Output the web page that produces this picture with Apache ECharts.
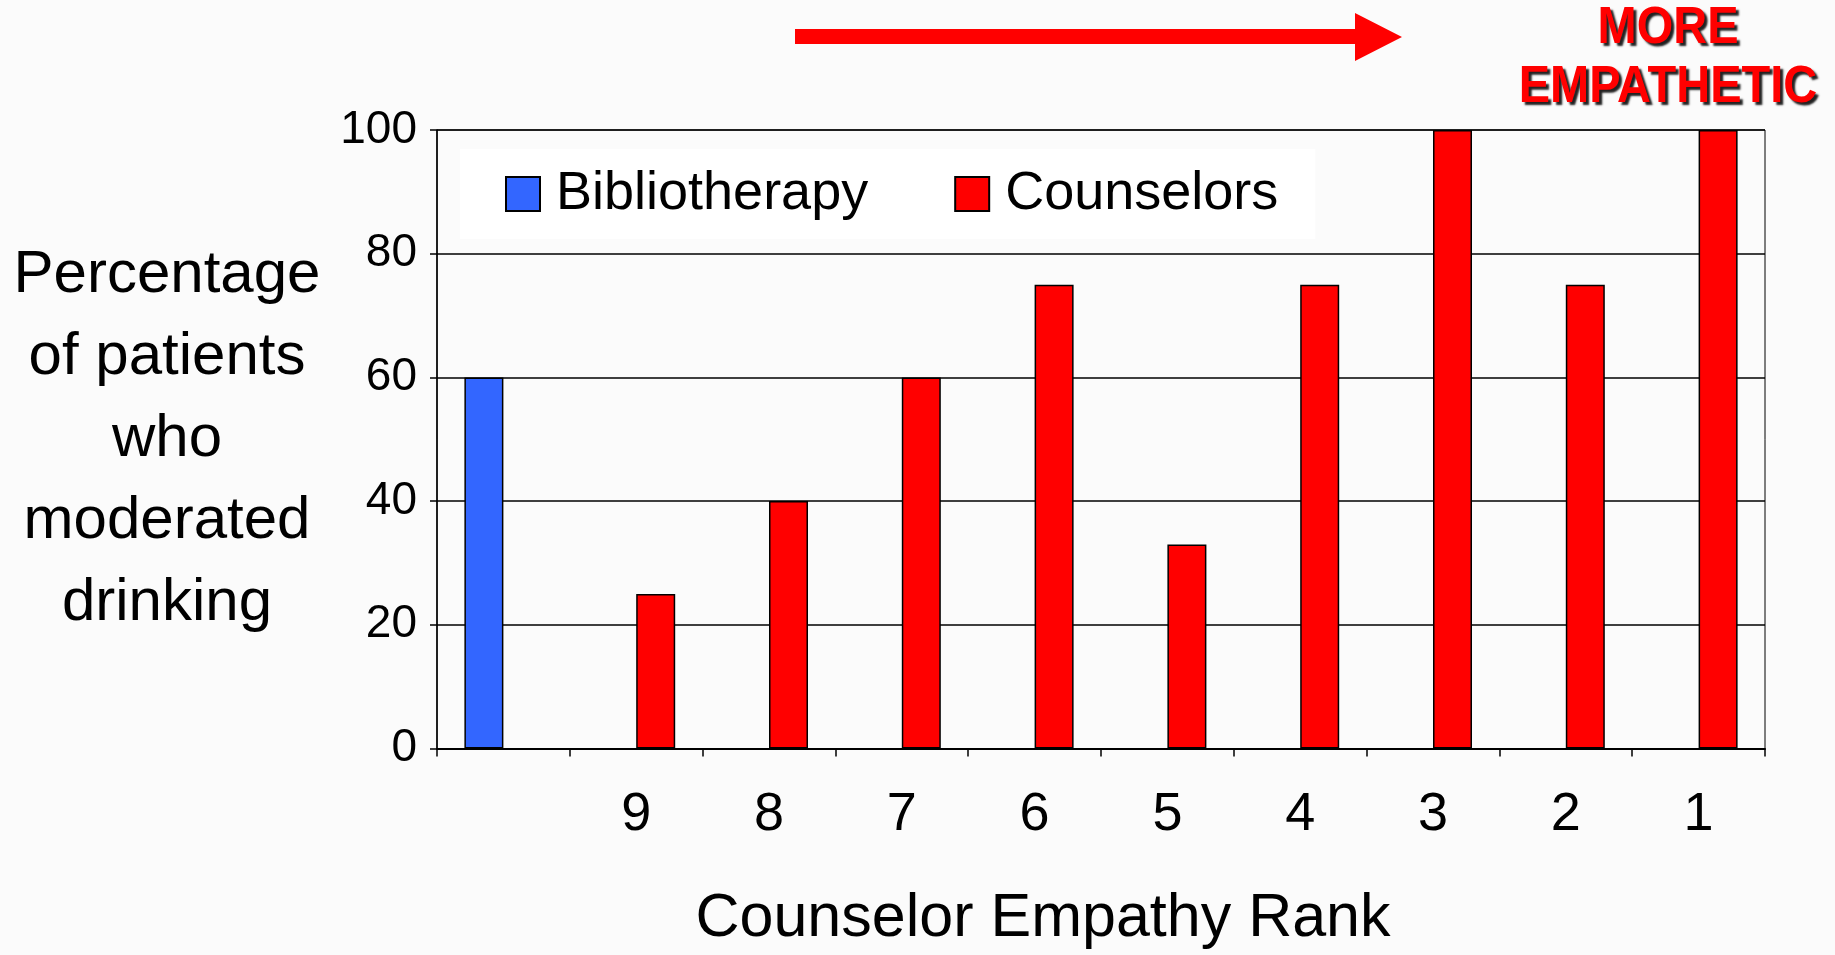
<!DOCTYPE html>
<html>
<head>
<meta charset="utf-8">
<title>Counselor Empathy Rank</title>
<script src="https://cdn.jsdelivr.net/npm/echarts@6/dist/echarts.min.js"></script>
<style>
  html, body { margin: 0; padding: 0; background: #fbfbfb; }
  #chartBox { width: 1835px; height: 955px; }
</style>
</head>
<body>
<div id="chartBox"></div>
<script>
  // chart data
  var ranks = ['', '9', '8', '7', '6', '5', '4', '3', '2', '1'];
  var bibliotherapy = [60, null, null, null, null, null, null, null, null, null];
  var counselors = [null, 25, 40, 60, 75, 33, 75, 100, 75, 100];
  var seriesNames = ['Bibliotherapy', 'Counselors'];

  var font = 'Liberation Sans, Arial, sans-serif';
  var chart = echarts.init(document.getElementById('chartBox'));

  var option = {
    backgroundColor: '#fbfbfb',
    textStyle: { fontFamily: font, color: '#000' },
    grid: {
      left: 437, right: 70, top: 130, bottom: 206,
      show: true, borderColor: '#000', borderWidth: 1,
      backgroundColor: 'rgba(0,0,0,0)'
    },
    legend: {
      data: seriesNames,
      left: 460, top: 149,
      backgroundColor: '#fff',
      padding: [18, 37, 18, 45],
      itemWidth: 34, itemHeight: 34,
      itemGap: 86,
      icon: 'rect',
      textStyle: { fontSize: 54, color: '#000', fontFamily: font, padding: [0, 0, 0, 11] }
    },
    xAxis: {
      type: 'category',
      data: ranks,
      name: 'Counselor Empathy Rank',
      nameLocation: 'middle',
      nameGap: 171,
      nameTextStyle: {
        fontSize: 61, color: '#000', fontFamily: font,
        verticalAlign: 'middle', padding: [0, 116, 0, 0]
      },
      axisLine: { lineStyle: { color: '#000', width: 2 } },
      axisTick: { show: true, length: 8, lineStyle: { color: '#000', width: 1.5 } },
      axisLabel: {
        interval: 0, fontSize: 54, color: '#000', fontFamily: font,
        margin: 67, verticalAlign: 'middle'
      }
    },
    yAxis: {
      type: 'value',
      min: 0, max: 100, interval: 20,
      name: 'Percentage\nof patients\nwho\nmoderated\ndrinking',
      nameLocation: 'middle',
      nameRotate: 0,
      nameGap: 270,
      nameTextStyle: {
        fontSize: 60, lineHeight: 82, color: '#000', fontFamily: font,
        align: 'center', verticalAlign: 'middle'
      },
      axisLine: { show: true, lineStyle: { color: '#000', width: 1.5 } },
      axisTick: { show: true, length: 7, lineStyle: { color: '#000', width: 1.5 } },
      axisLabel: { fontSize: 46, color: '#000', fontFamily: font, margin: 20 },
      splitLine: { lineStyle: { color: '#000', width: 1.5 } }
    },
    series: [
      {
        name: 'Bibliotherapy',
        type: 'bar',
        data: bibliotherapy,
        barWidth: 39,
        barGap: '0%',
        itemStyle: { color: '#3366ff', borderColor: '#000', borderWidth: 1.5 }
      },
      {
        name: 'Counselors',
        type: 'bar',
        data: counselors,
        barWidth: 39,
        barGap: '0%',
        itemStyle: { color: '#ff0000', borderColor: '#000', borderWidth: 1.5 }
      }
    ],
    graphic: [
      {
        // arrow pointing to "more empathetic"
        type: 'polygon',
        shape: {
          points: [[795, 29], [1355, 29], [1355, 13], [1402, 37], [1355, 61], [1355, 44], [795, 44]]
        },
        style: { fill: '#ff0000' }
      },
      {
        type: 'text',
        x: 1668, y: 58,
        scaleY: 1.12,
        style: {
          text: 'MORE\nEMPATHETIC',
          font: 'bold 47px Liberation Sans, Arial, sans-serif',
          lineHeight: 52,
          align: 'center',
          verticalAlign: 'middle',
          fill: '#ff0000',
          textShadowColor: '#222',
          textShadowOffsetX: 3,
          textShadowOffsetY: 3,
          textShadowBlur: 2
        }
      }
    ]
  };

  chart.setOption(option);
  window.onresize = chart.resize;
</script>
</body>
</html>
